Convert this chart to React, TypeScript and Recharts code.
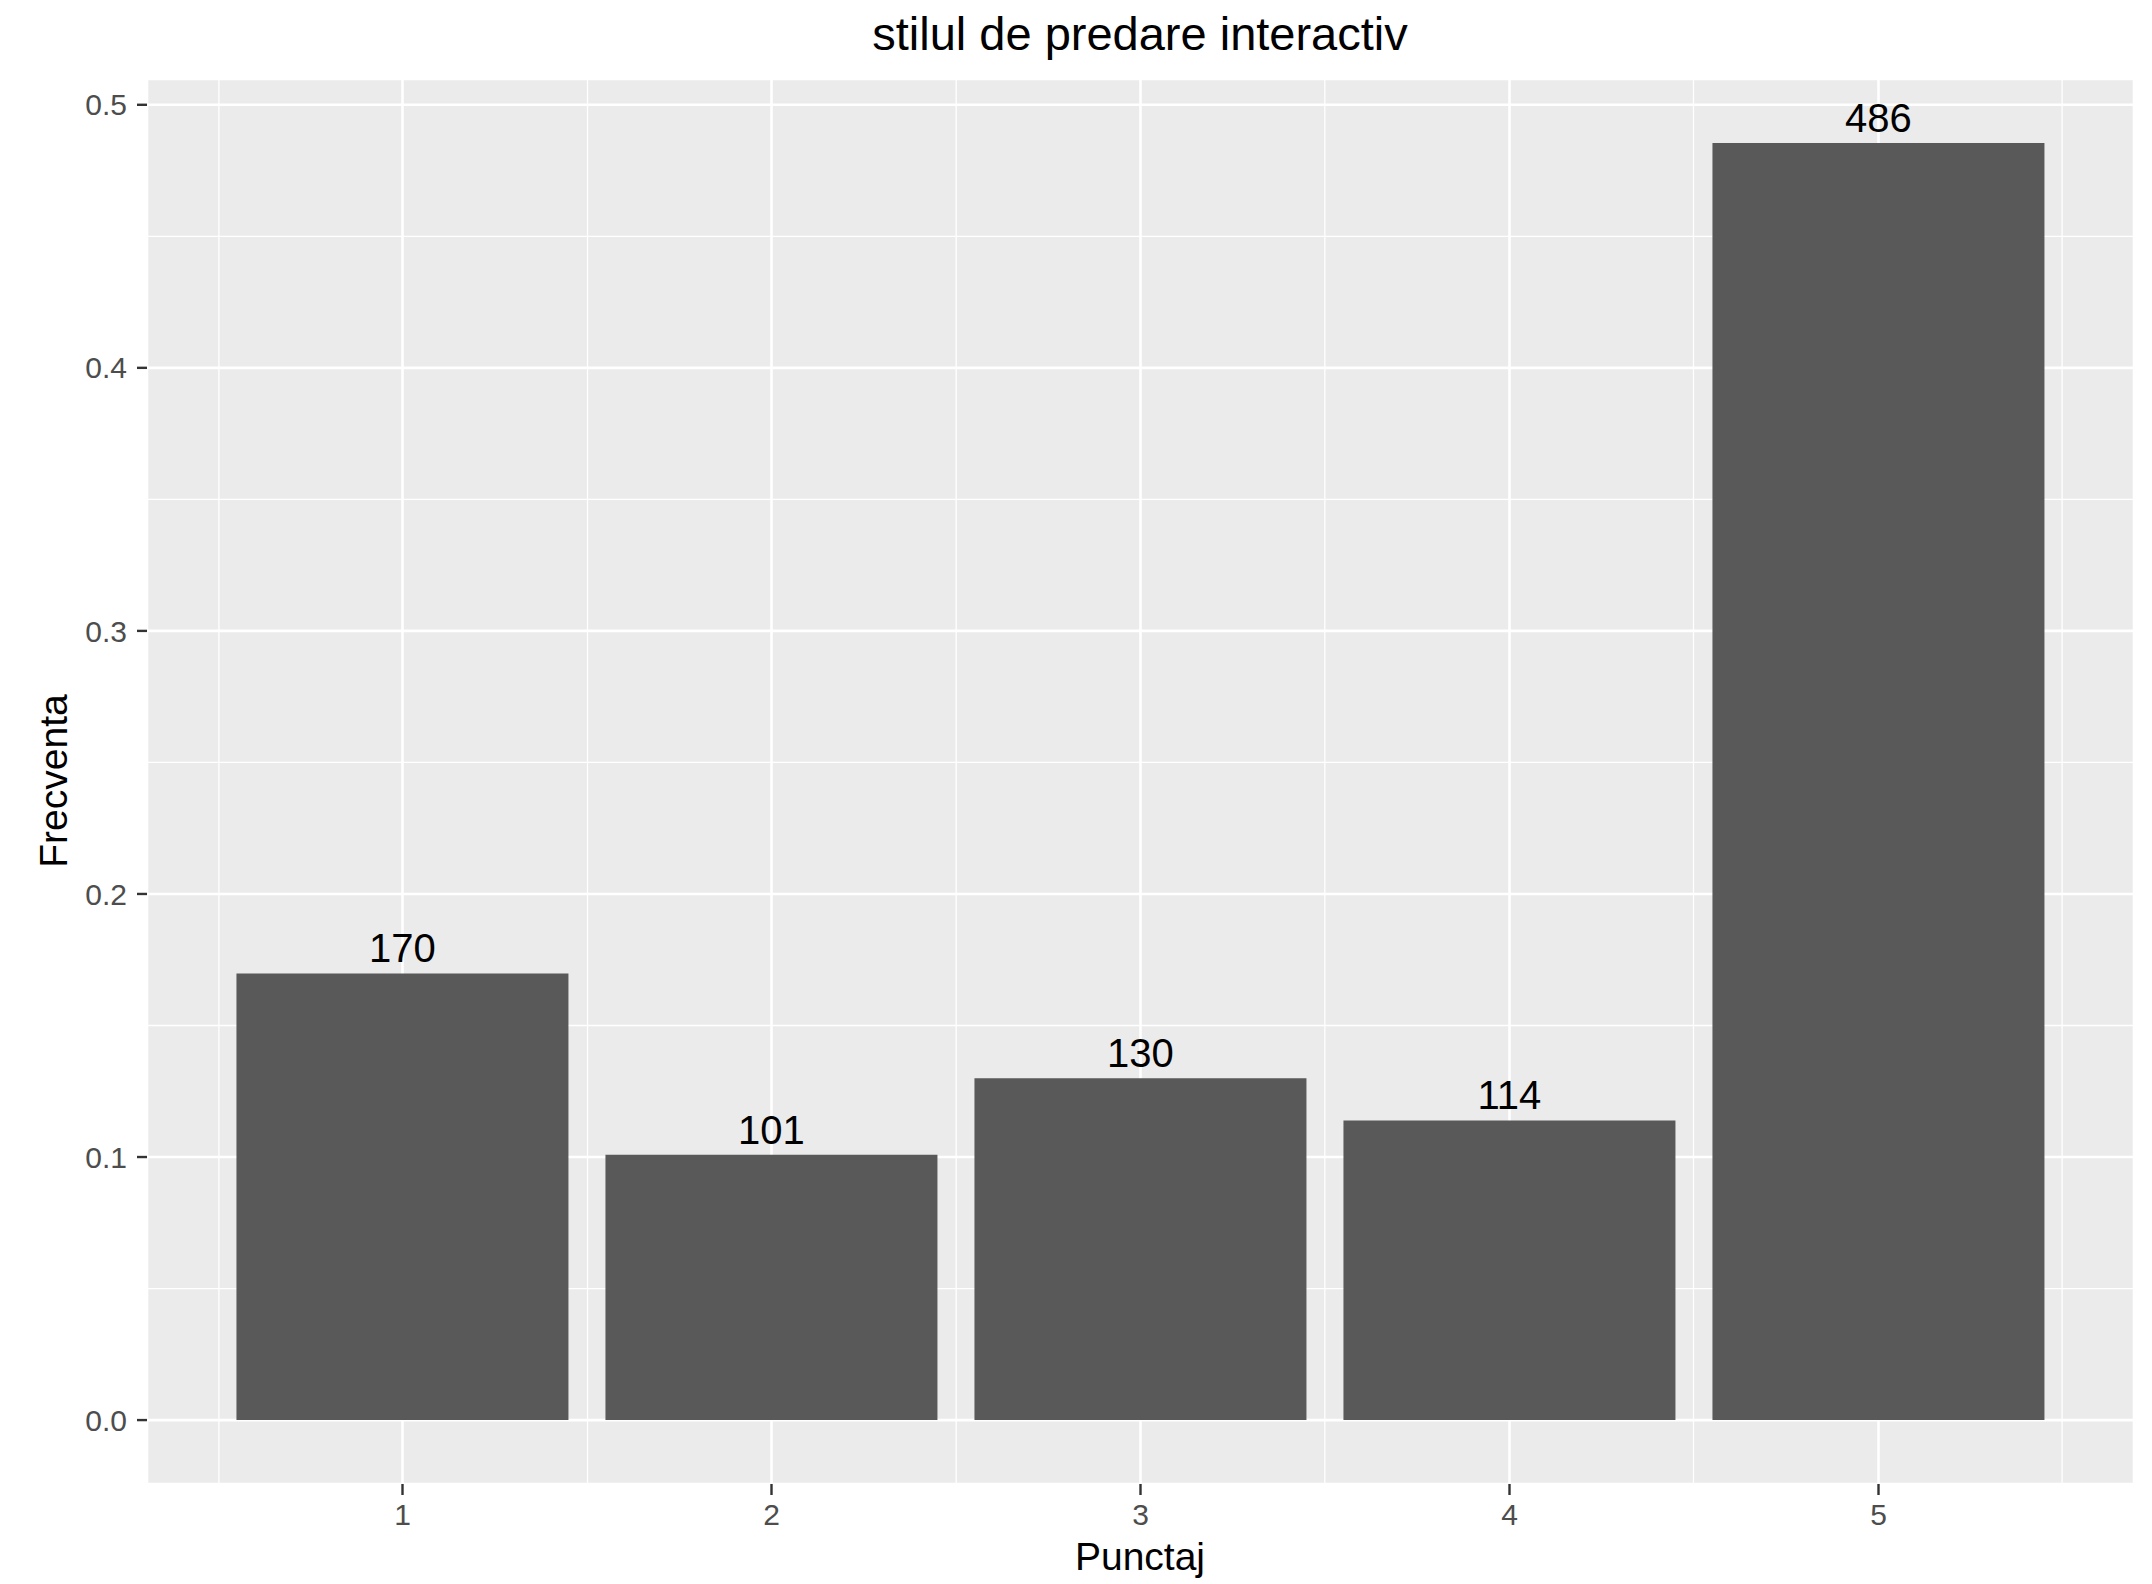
import {
  Bar,
  BarChart,
  CartesianGrid,
  LabelList,
  XAxis,
  YAxis,
} from "recharts";

const categories = ["1", "2", "3", "4", "5"];
const counts = [170, 101, 130, 114, 486];
const frequencies = [0.1698, 0.1009, 0.1299, 0.1139, 0.4855];
const majorYTicks = [0, 0.1, 0.2, 0.3, 0.4, 0.5];
const minorYTicks = [0.05, 0.15, 0.25, 0.35, 0.45];
const minorXTicks = [0.5, 1.5, 2.5, 3.5, 4.5, 5.5];

const data = categories.map((cat, i) => ({
  cat,
  pos: i + 1,
  freq: frequencies[i],
  count: counts[i],
}));

const FONT = "'Liberation Sans', Arial, Helvetica, sans-serif";
const W = 2152;
const H = 1584;
const yDomain = [-0.0243, 0.5098];
const xDomain = [0.305, 5.695];

// invisible tick renderer so the hidden axes still hand their ticks to the grid
const NoTick = () => <g />;

export default function App() {
  return (
    <div style={{ position: "absolute", left: 0, top: 0, width: W, height: H, background: "#fff" }}>
      <BarChart
        width={W}
        height={H}
        data={data}
        margin={{ top: 79, right: 18, bottom: 0, left: 0 }}
        barCategoryGap="5%"
      >
        <CartesianGrid
          fill="#EBEBEB"
          stroke="#FFFFFF"
          strokeWidth={1.3}
          xAxisId="minor"
          yAxisId="minor"
        />
        <CartesianGrid
          stroke="#FFFFFF"
          strokeWidth={2.6}
          xAxisId="main"
          yAxisId="main"
        />
        <XAxis
          xAxisId="main"
          dataKey="cat"
          height={100}
          padding={{ left: 71, right: 71 }}
          axisLine={false}
          tickSize={11}
          tickMargin={9}
          tickLine={{ stroke: "#333333", strokeWidth: 2.4 }}
          tick={{ fill: "#4D4D4D", fontSize: 30, fontFamily: FONT }}
        />
        <XAxis
          xAxisId="minor"
          dataKey="pos"
          type="number"
          domain={xDomain}
          allowDataOverflow
          ticks={minorXTicks}
          interval={0}
          height={0}
          axisLine={false}
          tickLine={false}
          tick={NoTick}
        />
        <YAxis
          yAxisId="main"
          width={147}
          type="number"
          domain={yDomain}
          allowDataOverflow
          ticks={majorYTicks}
          tickFormatter={(v: number) => v.toFixed(1)}
          axisLine={false}
          tickSize={10}
          tickMargin={10}
          tickLine={{ stroke: "#333333", strokeWidth: 2.4 }}
          tick={{ fill: "#4D4D4D", fontSize: 30, fontFamily: FONT }}
        />
        <YAxis
          yAxisId="minor"
          width={0}
          type="number"
          domain={yDomain}
          allowDataOverflow
          ticks={minorYTicks}
          interval={0}
          axisLine={false}
          tickLine={false}
          tick={NoTick}
        />
        <Bar
          xAxisId="main"
          yAxisId="main"
          dataKey="freq"
          fill="#595959"
          isAnimationActive={false}
        >
          <LabelList
            dataKey="count"
            position="top"
            offset={11}
            fill="#000000"
            fontSize={40}
            fontFamily={FONT}
          />
        </Bar>
      </BarChart>
      <svg
        width={W}
        height={H}
        style={{ position: "absolute", left: 0, top: 0, pointerEvents: "none" }}
      >
        <text x={1140} y={50} textAnchor="middle" fontSize={47} fontFamily={FONT} fill="#000">
          stilul de predare interactiv
        </text>
        <text x={1140} y={1570} textAnchor="middle" fontSize={39} fontFamily={FONT} fill="#000">
          Punctaj
        </text>
        <text
          x={67}
          y={781}
          textAnchor="middle"
          fontSize={39}
          fontFamily={FONT}
          fill="#000"
          transform="rotate(-90 67 781)"
        >
          Frecventa
        </text>
      </svg>
    </div>
  );
}
